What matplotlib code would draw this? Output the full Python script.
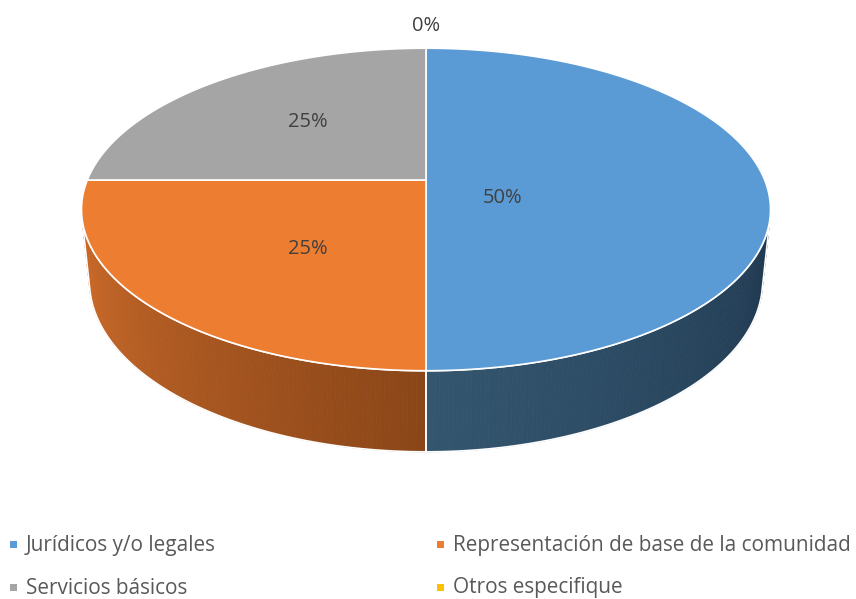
import numpy as np
import matplotlib
matplotlib.use("Agg")
import matplotlib.pyplot as plt
from matplotlib.patches import Polygon
from matplotlib.colors import to_rgb

# ---- data ----
categories = ["Jurídicos y/o legales", "Representación de base de la comunidad",
              "Servicios básicos", "Otros especifique"]
values = [50, 25, 25, 0]
pct_labels = ["50%", "25%", "25%", "0%"]
top_colors = ["#5B9BD5", "#ED7D31", "#A5A5A5", "#FFC000"]
side_light = ["#34566F", "#CD6B2A", "#8A8A8A", "#D9A300"]
side_dark = ["#1F3850", "#8A4618", "#5A5A5A", "#9A7300"]

# ---- layout / projection ----
W, H = 856, 599
X0, Y0 = 426.0, 180.0
S = 338.7
alpha = np.deg2rad(27.4)
L = 4.857
hgt = 0.241
ca, sa = np.cos(alpha), np.sin(alpha)


def proj(theta_deg, r=1.0, z=0.0):
    t = np.deg2rad(np.asarray(theta_deg, dtype=float))
    u = r * np.sin(t)
    v = -r * np.cos(t)
    yc = z * ca - v * sa
    dc = z * sa + v * ca
    f = L / (L - dc)
    return X0 + S * u * f, Y0 - S * yc * f


fig = plt.figure(figsize=(W / 100, H / 100), dpi=100)
ax = fig.add_axes([0, 0, 1, 1])
ax.set_xlim(0, W)
ax.set_ylim(H, 0)
ax.axis("off")

total = float(sum(values))
starts = np.cumsum([0] + values[:-1]) / total * 360.0
ends = np.cumsum(values) / total * 360.0

# visible side range
th_lim = np.rad2deg(np.arccos(-1.0 / (L * ca)))
vis_lo, vis_hi = th_lim, 360 - th_lim

# sides
for i, (a0, a1) in enumerate(zip(starts, ends)):
    lo, hi = max(a0, vis_lo), min(a1, vis_hi)
    if hi <= lo:
        continue
    n = 120
    ths = np.linspace(lo, hi, n + 1)
    cl = np.array(to_rgb(side_light[i]))
    cd = np.array(to_rgb(side_dark[i]))
    for k in range(n):
        t0, t1 = ths[k], ths[k + 1]
        frac = (0.5 * (t0 + t1) - lo) / (hi - lo)
        col = cd + (cl - cd) * frac
        xa, ya = proj([t0, t1], 1.0, 0.0)
        xb, yb = proj([t1, t0], 1.0, -hgt)
        poly = Polygon(np.c_[np.r_[xa, xb], np.r_[ya, yb]], closed=True,
                       facecolor=col, edgecolor=col, linewidth=0.6, zorder=2)
        ax.add_patch(poly)
    xa, ya = proj(ths, 1.0, 0.0)
    xb, yb = proj(ths[::-1], 1.0, -hgt)
    ax.add_patch(Polygon(np.c_[np.r_[xa, xb], np.r_[ya, yb]], closed=True,
                         facecolor="none", edgecolor="white", linewidth=1.2,
                         zorder=3, joinstyle="round"))

# top faces
for i, (a0, a1) in enumerate(zip(starts, ends)):
    if a1 - a0 <= 0:
        continue
    ths = np.linspace(a0, a1, 200)
    xs, ys = proj(ths, 1.0, 0.0)
    cx, cy = proj(0, 0.0, 0.0)
    pts = np.c_[np.r_[cx, xs], np.r_[cy, ys]]
    ax.add_patch(Polygon(pts, closed=True, facecolor=top_colors[i],
                         edgecolor="white", linewidth=1.2, zorder=4,
                         joinstyle="round"))

# data labels
label_r = [0.225, 0.47, 0.47, 1.0]
label_dx = [0, 2, -12, 0]
label_dy = [18, 14, -9, -22]
for i, (a0, a1) in enumerate(zip(starts, ends)):
    mid = 0.5 * (a0 + a1) if a1 > a0 else a0
    if values[i] == 0:
        mid = 0.0
    lx, ly = proj(mid, label_r[i], 0.0)
    ax.text(lx + label_dx[i], ly + label_dy[i], pct_labels[i], ha="center",
            va="center", fontsize=14.5, color="#404040", family="Open Sans",
            zorder=6)

# legend
leg_pos = [(10, 545), (437, 545), (10, 588), (437, 588)]
target_w = 398.0
fs = 15.0
r = fig.canvas.get_renderer()
tmp = ax.text(0, 0, categories[1], fontsize=fs, family="Open Sans")
wpx = tmp.get_window_extent(renderer=r).width
tmp.remove()
fs = fs * target_w / wpx
for i, (px, py) in enumerate(leg_pos):
    ax.add_patch(Polygon([[px, py - 4], [px + 7, py - 4], [px + 7, py + 3], [px, py + 3]],
                         closed=True, facecolor=top_colors[i], edgecolor="none", zorder=5))
    ax.text(px + 16, py, categories[i], ha="left", va="center", fontsize=fs,
            color="#595959", family="Open Sans", zorder=6)

fig.savefig("out.png", dpi=100)
